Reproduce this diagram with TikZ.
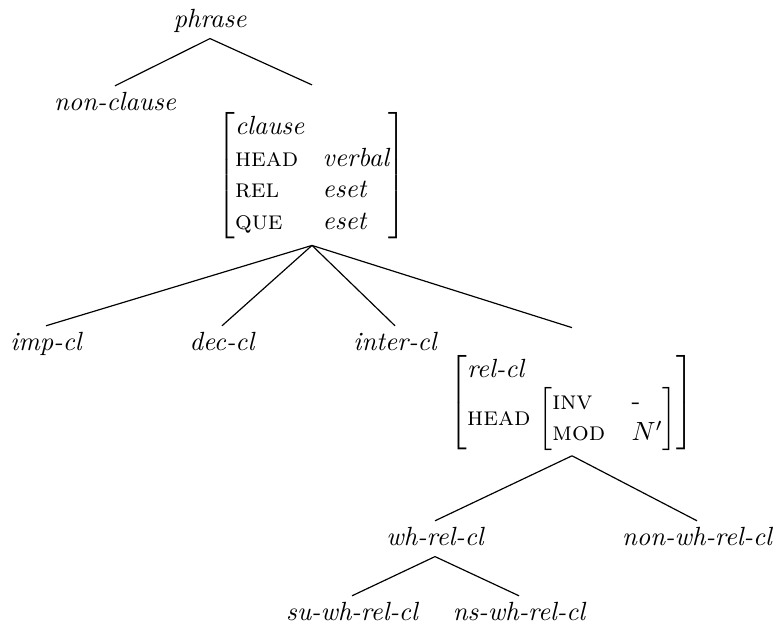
\documentclass[tikz,border=0pt]{standalone}
\begin{document}
\begin{tikzpicture}[x=0.38pt,y=-0.38pt,
  lbl/.style={inner sep=2pt, text height=7pt, text depth=2.2pt, anchor=base, font=\itshape},
  avm/.style={inner sep=0pt},
  branch/.style={draw, line width=0.45pt}]
\useasboundingbox (0,0) rectangle (775,629);
% labels
\node[lbl] (phrase) at (210,27) {phrase};
\node[lbl] (nonclause) at (115,110) {non-clause};
\node[avm, anchor=north] (clause) at (312,112)
  {$\left[\begin{array}{@{}l@{\hspace{7pt}}l@{}}
     \textit{clause} & \\
     \textsc{head} & \textit{verbal}\\
     \textsc{rel} & \textit{eset}\\
     \textsc{que} & \textit{eset}
   \end{array}\right]$};
\node[lbl] (impcl) at (46,350) {imp-cl};
\node[lbl] (deccl) at (222,350) {dec-cl};
\node[lbl] (intercl) at (395,350) {inter-cl};
\node[avm, anchor=north] (relcl) at (572,355)
  {$\left[\begin{array}{@{}l@{\hspace{3pt}}l@{}}
     \textit{rel-cl} & \\
     \textsc{head} & \left[\begin{array}{@{}l@{\hspace{10pt}}l@{}}
        \textsc{inv} & \mbox{-}\\
        \textsc{mod} & N'
      \end{array}\right]
   \end{array}\right]$};
\node[lbl] (whrel) at (435,545) {wh-rel-cl};
\node[lbl] (nonwh) at (697,545) {non-wh-rel-cl};
\node[lbl] (suwh) at (352,620) {su-wh-rel-cl};
\node[lbl] (nswh) at (519,620) {ns-wh-rel-cl};
% branches
\draw[branch] (phrase.south) -- (nonclause.north);
\draw[branch] (phrase.south) -- ([yshift=10.3pt]clause.north);
\draw[branch] ([yshift=-2.3pt]clause.south) -- (impcl.north);
\draw[branch] ([yshift=-2.3pt]clause.south) -- (deccl.north);
\draw[branch] ([yshift=-2.3pt]clause.south) -- (intercl.north);
\draw[branch] ([yshift=-2.3pt]clause.south) -- ([yshift=10.4pt]relcl.north);
\draw[branch] ([yshift=-1.9pt]relcl.south) -- (whrel.north);
\draw[branch] ([yshift=-1.9pt]relcl.south) -- (nonwh.north);
\draw[branch] (whrel.south) -- (suwh.north);
\draw[branch] (whrel.south) -- (nswh.north);
\end{tikzpicture}
\end{document}
